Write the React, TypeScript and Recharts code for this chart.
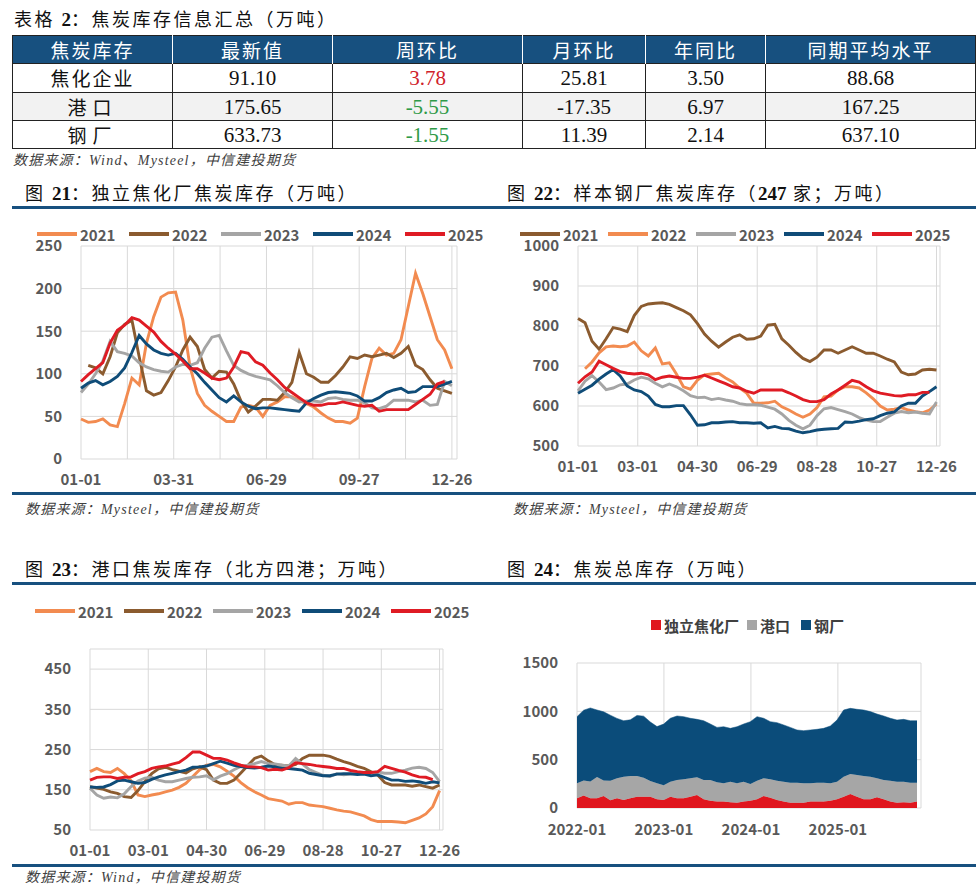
import React from "react";
import { LineChart, Line, AreaChart, Area, XAxis, YAxis, CartesianGrid } from "recharts";

// 图21：独立焦化厂焦炭库存（万吨），周度
const coking2021 = [47, 43, 44, 47, 40, 38, 65, 95, 87, 136, 167, 190, 195, 196, 163, 108, 77, 63, 56, 50, 44, 44, 61, 63, 61, 50, 63, 67, 73, 73, 69, 65, 61, 54, 48, 44, 44, 42, 48, 85, 118, 130, 122, 124, 140, 179, 218, 194, 167, 140, 128, 106];
const coking2022 = [null, 110, 107, 100, 120, 148, 158, 163, 120, 80, 75, 78, 92, 108, 128, 143, 132, 105, 95, 103, 102, 88, 68, 55, 62, 70, 70, 69, 78, 90, 125, 100, 96, 90, 90, 98, 108, 120, 118, 122, 120, 122, 124, 119, 124, 132, 110, 105, 93, 83, 80, 77];
const coking2023 = [78, 88, 100, 115, 138, 126, 124, 121, 113, 108, 105, 103, 102, 108, 111, 110, 113, 130, 143, 145, 127, 110, 104, 100, 97, 95, 93, 86, 78, 72, 67, 68, 68, 67, 71, 72, 70, 69, 69, 66, 60, 59, 62, 69, 69, 69, 67, 69, 63, 64, 91, 86];
const coking2024 = [83, 89, 92, 87, 91, 97, 107, 125, 145, 135, 128, 124, 122, 124, 117, 108, 100, 90, 81, 72, 67, 74, 67, 62, 59, 60, 60, 59, 58, 57, 56, 66, 71, 75, 78, 79, 78, 77, 74, 68, 68, 72, 78, 81, 83, 78, 79, 85, 85, 85, 88, 91];
const coking2025 = [91, 99, 106, 113, 136, 151, 157, 166, 163, 156, 149, 138, 130, 123, 115, 106, 106, 101, 95, 93, 95, 108, 126, 124, 114, 110, 101, 93, 84, 78, 72, 66, 63, 63, 65, 65, 67, 65, 63, 62, 63, 56, 58, 58, 58, 58, 64, 70, 76, 88, 91];

// 图22：样本钢厂焦炭库存（247家；万吨）
const mill2021 = [819, 808, 762, 742, 768, 796, 792, 786, 826, 849, 855, 857, 858, 854, 846, 838, 828, 806, 780, 762, 747, 760, 772, 778, 767, 768, 775, 802, 804, 768, 752, 734, 719, 711, 722, 740, 740, 732, 740, 748, 740, 732, 732, 725, 717, 710, 685, 678, 680, 690, 692, 690];
const mill2022 = [null, 693, 710, 733, 748, 750, 748, 750, 760, 738, 725, 745, 705, 708, 680, 648, 642, 665, 678, 680, 682, 670, 660, 645, 632, 607, 607, 608, 612, 598, 590, 580, 572, 580, 596, 623, 625, 640, 648, 648, 645, 633, 618, 600, 590, 592, 596, 590, 586, 583, 590, 605];
const mill2023 = [638, 662, 676, 660, 641, 645, 653, 655, 665, 672, 668, 657, 648, 655, 648, 638, 626, 621, 622, 616, 619, 615, 612, 606, 603, 603, 602, 597, 592, 580, 564, 552, 543, 552, 576, 593, 596, 591, 586, 580, 571, 565, 561, 561, 572, 582, 586, 583, 585, 582, 580, 610];
const mill2024 = [632, 642, 652, 667, 680, 691, 675, 650, 640, 636, 625, 604, 598, 598, 601, 601, 578, 552, 553, 558, 558, 560, 561, 558, 558, 557, 558, 545, 549, 544, 543, 537, 533, 536, 540, 542, 543, 544, 560, 559, 562, 566, 568, 576, 582, 585, 600, 607, 607, 625, 636, 648];
const mill2025 = [657, 673, 685, 712, 703, 694, 686, 682, 680, 682, 678, 666, 672, 675, 672, 669, 669, 672, 677, 670, 663, 656, 648, 645, 637, 632, 640, 640, 640, 640, 633, 625, 616, 611, 611, 616, 630, 640, 652, 664, 660, 648, 638, 632, 629, 626, 625, 628, 628, 634, 634];

// 图23：港口焦炭库存（北方四港；万吨）
const port2021 = [195, 203, 195, 193, 203, 190, 172, 137, 133, 137, 140, 145, 149, 156, 166, 183, 200, 211, 213, 207, 196, 184, 168, 155, 145, 137, 128, 125, 122, 114, 118, 118, 112, 110, 108, 104, 100, 97, 95, 90, 85, 76, 71, 71, 71, 70, 68, 74, 80, 90, 108, 148];
const port2022 = [158, 154, 151, 145, 141, 133, 131, 148, 170, 190, 202, 206, 200, 196, 192, 202, 207, 200, 174, 166, 166, 174, 192, 210, 228, 234, 222, 212, 211, 209, 213, 228, 236, 236, 236, 233, 226, 220, 215, 208, 203, 195, 186, 168, 162, 162, 162, 159, 162, 158, 154, 162];
const port2023 = [154, 137, 129, 132, 130, 140, 158, 172, 179, 181, 174, 170, 170, 174, 178, 181, 182, 185, 175, 184, 190, 200, 208, 211, 215, 220, 215, 214, 211, 209, 228, 214, 200, 193, 186, 183, 190, 187, 189, 191, 192, 192, 194, 191, 191, 195, 199, 204, 206, 203, 193, 170];
const port2024 = [157, 156, 157, 163, 172, 174, 170, 166, 168, 176, 182, 187, 191, 195, 199, 206, 207, 209, 215, 221, 216, 211, 208, 205, 204, 206, 209, 207, 203, 203, 201, 199, 191, 188, 185, 185, 189, 190, 190, 188, 189, 185, 187, 180, 174, 174, 171, 172, 170, 166, 170, 167];
const port2025 = [174, 181, 182, 182, 178, 181, 182, 190, 195, 203, 207, 209, 214, 218, 230, 244, 244, 236, 228, 228, 224, 217, 211, 207, 207, 205, 199, 201, 199, 205, 217, 215, 213, 210, 208, 206, 203, 203, 198, 195, 193, 193, 195, 208, 203, 198, 194, 187, 182, 181, 175];

// 图24：焦炭总库存（万吨），每4周一个点，自2022-01起
const totalCoking = [100, 130, 100, 100, 125, 80, 100, 83, 100, 117, 117, 117, 90, 83, 117, 100, 100, 117, 134, 90, 76, 66, 66, 59, 55, 66, 76, 90, 124, 107, 83, 66, 55, 55, 55, 66, 66, 66, 76, 90, 117, 145, 117, 90, 90, 110, 90, 66, 55, 59, 55, 66];
const totalPort = [155, 155, 175, 220, 160, 203, 207, 241, 231, 214, 195, 163, 165, 152, 155, 190, 197, 190, 183, 200, 214, 200, 189, 213, 200, 206, 172, 193, 183, 190, 200, 206, 207, 207, 200, 189, 196, 196, 179, 182, 207, 207, 224, 241, 234, 197, 200, 217, 217, 213, 207, 196];
const totalMill = [690, 727, 760, 694, 710, 677, 620, 579, 581, 627, 638, 610, 587, 633, 656, 662, 648, 621, 600, 613, 579, 568, 586, 552, 586, 597, 645, 662, 621, 596, 600, 587, 572, 545, 545, 552, 552, 562, 593, 638, 690, 679, 680, 683, 673, 665, 662, 645, 638, 645, 641, 641];

// tick labels
const ticks21 = [0, 6.375, 12.75, 19.125, 25.5, 31.875, 38.25, 44.625, 51];
const labels21 = ["01-01", "", "03-31", "", "06-29", "", "09-27", "", "12-26"];
const ticks60d = [0, 8.5, 17, 25.5, 34, 42.5, 51];
const labels60d = ["01-01", "03-01", "04-30", "06-29", "08-28", "10-27", "12-26"];
const ticksYear = [0, 13.04, 26.09, 39.13];
const labelsYear = ["2022-01", "2023-01", "2024-01", "2025-01"];

// table
const tableHead = ["焦炭库存", "最新值", "周环比", "月环比", "年同比", "同期平均水平"];
const tableRows = [
  ["焦化企业", "91.10", "3.78", "25.81", "3.50", "88.68"],
  ["港口", "175.65", "-5.55", "-17.35", "6.97", "167.25"],
  ["钢厂", "633.73", "-1.55", "11.39", "2.14", "637.10"],
];
const colWidths = [160, 160, 190, 123, 120, 210];
const rowHeights = [29, 28, 28];

const ORANGE = "#F28B50";
const BROWN = "#8B5B2F";
const GRAY = "#A5A5A5";
const NAVY = "#0F4C78";
const RED = "#DF1B24";
const DARK = "#17507F";

const CJK = '"Noto Sans CJK SC", sans-serif';
const SERIF = '"Liberation Serif", "Noto Sans CJK SC", serif';
const tickStyle = { fontSize: 15, fontWeight: 700, fill: "#595959", fontFamily: CJK };

type S = { key: string; name: string; color: string; values: (number | null)[] };

function toRows(series: S[]) {
  const n = Math.max(...series.map((s) => s.values.length));
  return Array.from({ length: n }, (_, i) => {
    const r: any = { w: i };
    series.forEach((s) => (r[s.key] = s.values[i] ?? null));
    return r;
  });
}

const s21: S[] = [
  { key: "a", name: "2021", color: ORANGE, values: coking2021 },
  { key: "b", name: "2022", color: BROWN, values: coking2022 },
  { key: "c", name: "2023", color: GRAY, values: coking2023 },
  { key: "d", name: "2024", color: NAVY, values: coking2024 },
  { key: "e", name: "2025", color: RED, values: coking2025 },
];
const s22: S[] = [
  { key: "a", name: "2021", color: BROWN, values: mill2021 },
  { key: "b", name: "2022", color: ORANGE, values: mill2022 },
  { key: "c", name: "2023", color: GRAY, values: mill2023 },
  { key: "d", name: "2024", color: NAVY, values: mill2024 },
  { key: "e", name: "2025", color: RED, values: mill2025 },
];
const s23: S[] = [
  { key: "a", name: "2021", color: ORANGE, values: port2021 },
  { key: "b", name: "2022", color: BROWN, values: port2022 },
  { key: "c", name: "2023", color: GRAY, values: port2023 },
  { key: "d", name: "2024", color: NAVY, values: port2024 },
  { key: "e", name: "2025", color: RED, values: port2025 },
];
const s24: S[] = [
  { key: "coking", name: "独立焦化厂", color: "#E0161E", values: totalCoking },
  { key: "port", name: "港口", color: "#A6A6A6", values: totalPort },
  { key: "mill", name: "钢厂", color: "#0B4C7A", values: totalMill },
];

// text may contain {n} pieces rendered as bold serif digits
function Title({ left, top, num, text, prefix = "图" }: any) {
  const parts = String(text).split(/(\d+)/);
  return (
    <div style={{ position: "absolute", left, top: top - 12, height: 24, lineHeight: "24px", fontFamily: CJK, fontSize: 18, letterSpacing: 2.5, color: "#111", whiteSpace: "nowrap" }}>
      {prefix} <span style={{ fontFamily: SERIF, fontWeight: 700, fontSize: 19, letterSpacing: 0 }}>{num}</span>：
      {parts.map((p, i) =>
        /^\d+$/.test(p) ? (
          <span key={i} style={{ fontFamily: SERIF, fontWeight: 700, fontSize: 19, letterSpacing: 0 }}>
            {p}
          </span>
        ) : (
          <React.Fragment key={i}>{p}</React.Fragment>
        )
      )}
    </div>
  );
}

function Source({ left, top, text }: any) {
  return (
    <div style={{ position: "absolute", left, top: top - 10, height: 20, lineHeight: "20px", fontFamily: SERIF, fontStyle: "italic", fontSize: 14, letterSpacing: 1.2, color: "#404040", whiteSpace: "nowrap" }}>
      {text}
    </div>
  );
}

function Rule({ left, width, top }: any) {
  return <div style={{ position: "absolute", left, width, top: top - 1.5, height: 3, background: DARK }} />;
}

function LineLegend({ series, left, step, top }: { series: S[]; left: number; step: number; top: number }) {
  return (
    <>
      {series.map((s, i) => (
        <div key={s.key} style={{ position: "absolute", left: left + i * step, top: top - 10, height: 20, display: "flex", alignItems: "center" }}>
          <span style={{ display: "inline-block", width: 40, height: 3.5, background: s.color }} />
          <span style={{ marginLeft: 3, fontFamily: CJK, fontWeight: 700, fontSize: 15, color: "#595959" }}>{s.name}</span>
        </div>
      ))}
    </>
  );
}

function YearLines({ series, width, height, margin, domain, yTicks, xTicks, xLabels, xDomain }: any) {
  const data = toRows(series);
  return (
    <LineChart width={width} height={height} data={data} margin={margin}>
      <CartesianGrid stroke="#D9D9D9" strokeWidth={1} />
      <XAxis
        dataKey="w"
        type="number"
        domain={xDomain}
        ticks={xTicks}
        interval={0}
        tickFormatter={(v: number) => xLabels[xTicks.indexOf(v)] ?? ""}
        axisLine={false}
        tickLine={false}
        tickSize={0}
        tickMargin={15}
        height={30}
        tick={tickStyle}
      />
      <YAxis domain={domain} ticks={yTicks} interval={0} axisLine={false} tickLine={false} tickSize={0} tickMargin={19} width={50} tick={tickStyle} />
      {series.map((s: S) => (
        <Line key={s.key} type="linear" dataKey={s.key} stroke={s.color} strokeWidth={2.9} dot={false} isAnimationActive={false} />
      ))}
    </LineChart>
  );
}

function SummaryTable() {
  const cell = (extra: any) => ({ padding: 0, textAlign: "center" as const, verticalAlign: "middle" as const, ...extra });
  return (
    <table style={{ position: "absolute", left: 12, top: 35, borderCollapse: "collapse", tableLayout: "fixed", width: 963, border: "1px solid #222" }}>
      <colgroup>
        {colWidths.map((w, i) => (
          <col key={i} style={{ width: w }} />
        ))}
      </colgroup>
      <thead>
        <tr style={{ height: 26, background: DARK }}>
          {tableHead.map((h, i) => (
            <th key={h} style={cell({ color: "#fff", fontFamily: CJK, fontWeight: 400, fontSize: 19, letterSpacing: 2, borderLeft: i ? "1px solid #fff" : "none" })}>
              {h}
            </th>
          ))}
        </tr>
      </thead>
      <tbody>
        {tableRows.map((r, ri) => (
          <tr key={ri} style={{ height: rowHeights[ri], background: ri === 1 ? "#F2F2F2" : "#fff" }}>
            {r.map((v, ci) => {
              const color = ci === 2 ? (v.startsWith("-") ? "#2E9A47" : "#D0222A") : "#111";
              return (
                <td
                  key={ci}
                  style={cell({
                    borderTop: "1px solid #222",
                    borderLeft: ci ? "1px solid #222" : "none",
                    color,
                    fontFamily: ci === 0 ? CJK : SERIF,
                    fontSize: ci === 0 ? 19 : 21,
                    letterSpacing: ci === 0 ? (r[0].length === 2 ? 6 : 2) : 0,
                    lineHeight: "22px",
                  })}
                >
                  {v}
                </td>
              );
            })}
          </tr>
        ))}
      </tbody>
    </table>
  );
}

export default function App() {
  const rows24 = toRows(s24);
  return (
    <div style={{ position: "absolute", left: 0, top: 0, width: 980, height: 888, background: "#fff", overflow: "hidden" }}>
      <Title left={14} top={18} prefix="表格" num="2" text="焦炭库存信息汇总（万吨）" />
      <SummaryTable />
      <Source left={13} top={161} text="数据来源：Wind、Mysteel，中信建投期货" />

      {/* 图21 */}
      <Title left={25} top={192} num="21" text="独立焦化厂焦炭库存（万吨）" />
      <div style={{ position: "absolute", left: 0, top: 210 }}>
        <YearLines
          series={s21}
          width={490}
          height={290}
          margin={{ top: 36, right: 33, left: 31, bottom: 11 }}
          domain={[0, 250]}
          yTicks={[0, 50, 100, 150, 200, 250]}
          xTicks={ticks21}
          xLabels={labels21}
          xDomain={[0, 51.7]}
        />
      </div>
      <LineLegend series={s21} left={37} step={92} top={234} />
      <Source left={25} top={510} text="数据来源：Mysteel，中信建投期货" />

      {/* 图22 */}
      <Title left={507} top={192} num="22" text="样本钢厂焦炭库存（247 家；万吨）" />
      <div style={{ position: "absolute", left: 490, top: 210 }}>
        <YearLines
          series={s22}
          width={490}
          height={290}
          margin={{ top: 36, right: 40, left: 38, bottom: 24 }}
          domain={[500, 1000]}
          yTicks={[500, 600, 700, 800, 900, 1000]}
          xTicks={ticks60d}
          xLabels={labels60d}
          xDomain={[0, 51.5]}
        />
      </div>
      <LineLegend series={s22} left={520} step={88} top={234} />
      <Source left={513} top={510} text="数据来源：Mysteel，中信建投期货" />

      {/* 图23 */}
      <Title left={25} top={568} num="23" text="港口焦炭库存（北方四港；万吨）" />
      <div style={{ position: "absolute", left: 0, top: 590 }}>
        <YearLines
          series={s23}
          width={490}
          height={275}
          margin={{ top: 59, right: 47, left: 40, bottom: 5 }}
          domain={[50, 500]}
          yTicks={[50, 150, 250, 350, 450]}
          xTicks={ticks60d}
          xLabels={labels60d}
          xDomain={[0, 51.5]}
        />
      </div>
      <LineLegend series={s23} left={35} step={89} top={611} />
      <Source left={25} top={878} text="数据来源：Wind，中信建投期货" />

      {/* 图24 */}
      <Title left={507} top={568} num="24" text="焦炭总库存（万吨）" />
      <div style={{ position: "absolute", left: 490, top: 590 }}>
        <AreaChart width={490} height={275} data={rows24} margin={{ top: 73, right: 59, left: 37, bottom: 27 }}>
          <CartesianGrid stroke="#D9D9D9" strokeWidth={1} />
          <XAxis
            dataKey="w"
            type="number"
            domain={[0, 51.6]}
            ticks={ticksYear}
            interval={0}
            tickFormatter={(v: number) => labelsYear[ticksYear.indexOf(v)] ?? ""}
            axisLine={false}
            tickLine={false}
            tickSize={0}
            tickMargin={16}
            height={30}
            tick={tickStyle}
          />
          <YAxis domain={[0, 1500]} ticks={[0, 500, 1000, 1500]} interval={0} axisLine={false} tickLine={false} tickSize={0} tickMargin={19} width={50} tick={tickStyle} />
          {s24.map((s) => (
            <Area key={s.key} type="linear" dataKey={s.key} stackId="t" stroke={s.color} strokeWidth={0.5} fill={s.color} fillOpacity={1} isAnimationActive={false} />
          ))}
        </AreaChart>
      </div>
      {s24.map((s, i) => (
        <div key={s.key} style={{ position: "absolute", left: [651, 747, 801][i], top: 615, height: 20, display: "flex", alignItems: "center" }}>
          <span style={{ display: "inline-block", width: 10, height: 10, background: s.color }} />
          <span style={{ marginLeft: 3, fontFamily: CJK, fontWeight: 700, fontSize: 15, color: "#404040" }}>{s.name}</span>
        </div>
      ))}

      <Rule left={12} width={478} top={207} />
      <Rule left={490} width={486} top={207} />
      <Rule left={12} width={478} top={493} />
      <Rule left={490} width={486} top={493} />
      <Rule left={12} width={478} top={583} />
      <Rule left={490} width={486} top={583} />
      <Rule left={12} width={478} top={865} />
      <Rule left={490} width={486} top={865} />
    </div>
  );
}
